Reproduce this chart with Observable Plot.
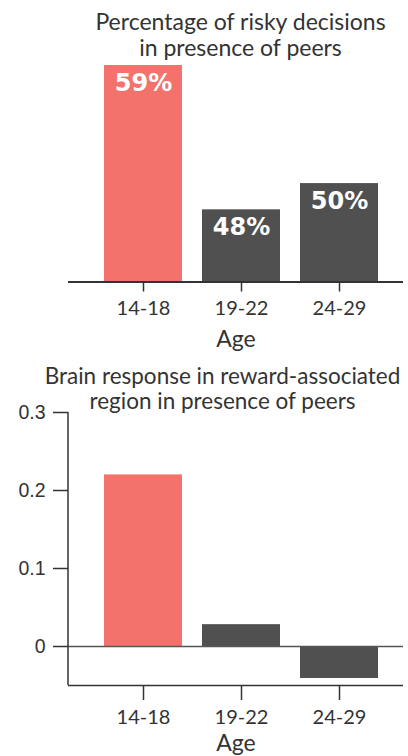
<!DOCTYPE html>
<html><head><meta charset="utf-8">
<script src="https://cdn.jsdelivr.net/npm/d3@7"></script>
<script src="https://cdn.jsdelivr.net/npm/@observablehq/plot@0.6"></script>
<style>
body{margin:0;background:#fff;}
#chart{width:408px;}
#chart svg{display:block;}
</style></head><body><div id="chart"></div>
<script>
// ---- data ----
const ages = ["14-18", "19-22", "24-29"];
const riskyPct = [59, 48, 50];
const brainResponse = [0.22, 0.028, -0.041];
const groups = ["teen", "adult", "adult"];
const brainTicks = [0, 0.1, 0.2, 0.3];
const topTitle = "Percentage of risky decisions\nin presence of peers";
const bottomTitle = "Brain response in reward-associated\nregion in presence of peers";
const xLabel = "Age";

// ---- scales / styling ----
const topDomain = [42.5, 59];
const bottomDomain = [-0.05, 0.3];
const colorScale = {domain: ["teen", "adult"], range: ["#F3726C", "#505050"]};
const xOpts = {domain: ages, paddingInner: 0.2, paddingOuter: 0.3, align: 0.6, label: null};
const font = "Lato, sans-serif";
const ink = "#333";

const topData = ages.map((a, i) => ({age: a, value: riskyPct[i], group: groups[i]}));
const botData = ages.map((a, i) => ({age: a, value: brainResponse[i], group: groups[i]}));

const topChart = Plot.plot({
  width: 408, height: 360,
  marginLeft: 68, marginRight: 5, marginTop: 65, marginBottom: 78.5,
  style: {fontFamily: font, fontSize: "20px", color: ink, background: "#fff", overflow: "visible"},
  x: xOpts,
  y: {domain: topDomain, clamp: true, axis: null},
  color: colorScale,
  marks: [
    Plot.barY(topData, {x: "age", y: "value", fill: "group"}),
    Plot.text(topData, {x: "age", y: "value", text: d => d.value + "%", lineAnchor: "top", dy: 8,
      fill: "white", fontWeight: "bold", fontSize: 24, fontFamily: "DejaVu Sans"}),
    Plot.ruleY([topDomain[0]], {stroke: ink, strokeWidth: 2}),
    Plot.axisX({tickSize: 10, tickPadding: 9, fontSize: 20, strokeWidth: 1.5, label: null}),
    Plot.text([xLabel], {text: d => d, frameAnchor: "bottom", lineAnchor: "bottom", dy: 64.5,
      fontSize: 23, fill: ink}),
    Plot.text([topTitle], {text: d => d, frameAnchor: "top", lineAnchor: "bottom", dy: -10, dx: 4.5,
      fontSize: 23, lineHeight: 1.13, fill: ink})
  ]
});

const leftLine = (index, scales, values, dimensions) => {
  const line = document.createElementNS("http://www.w3.org/2000/svg", "line");
  line.setAttribute("x1", dimensions.marginLeft);
  line.setAttribute("x2", dimensions.marginLeft);
  line.setAttribute("y1", scales.y(bottomDomain[1]));
  line.setAttribute("y2", scales.y(bottomDomain[0]));
  line.setAttribute("stroke", ink);
  line.setAttribute("stroke-width", 1.5);
  return line;
};

const bottomChart = Plot.plot({
  width: 408, height: 396,
  marginLeft: 68, marginRight: 5, marginTop: 52, marginBottom: 71,
  style: {fontFamily: font, fontSize: "20px", color: ink, background: "#fff", overflow: "visible"},
  x: xOpts,
  y: {domain: bottomDomain, axis: null},
  color: colorScale,
  marks: [
    Plot.barY(botData, {x: "age", y: "value", fill: "group"}),
    Plot.ruleY([0], {stroke: "#555", strokeWidth: 1.5}),
    Plot.ruleY([bottomDomain[0]], {stroke: ink, strokeWidth: 1.5}),
    leftLine,
    Plot.axisY({ticks: brainTicks, tickFormat: d => String(d), tickSize: 15, tickPadding: 8,
      fontFamily: "Liberation Sans", fontSize: 19.5, strokeWidth: 1.5, label: null}),
    Plot.axisX({tickSize: 15, tickPadding: 9, fontSize: 20, strokeWidth: 1.5, label: null}),
    Plot.text([xLabel], {text: d => d, frameAnchor: "bottom", lineAnchor: "bottom", dy: 65,
      fontSize: 23, fill: ink}),
    Plot.text([bottomTitle], {text: d => d, frameAnchor: "top", lineAnchor: "bottom", dy: -4, dx: -13.5,
      fontSize: 22.5, lineHeight: 1.1, fill: ink})
  ]
});

const el = document.getElementById("chart");
el.appendChild(topChart);
el.appendChild(bottomChart);
</script>
</body></html>
